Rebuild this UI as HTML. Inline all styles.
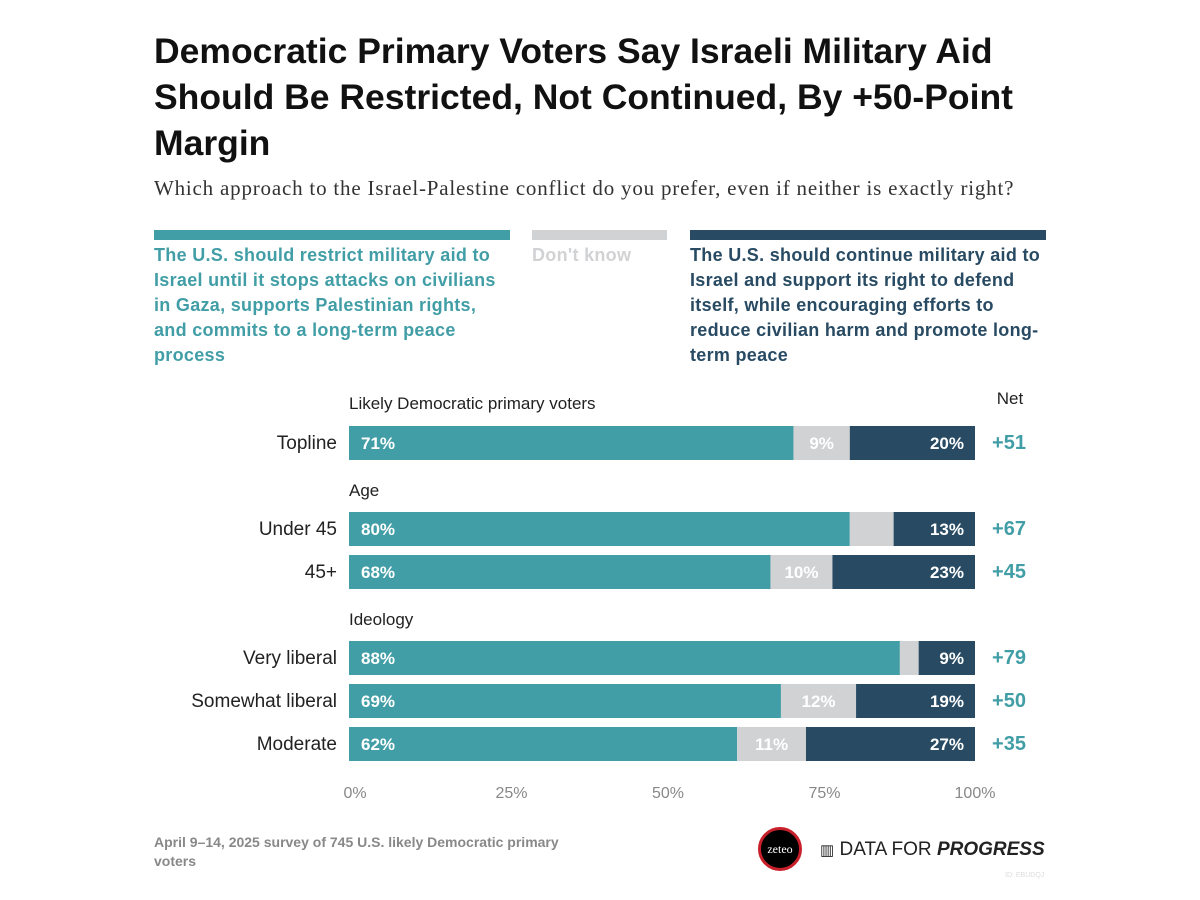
<!DOCTYPE html>
<html><head><meta charset="utf-8"><style>
body{margin:0;background:#fff;width:1200px;height:900px;position:relative;font-family:"Liberation Sans",sans-serif;overflow:hidden}
.abs{position:absolute}
#title{left:154px;top:28px;width:900px;font-size:35.5px;font-weight:bold;line-height:46px;color:#111}
#sub{left:154px;top:176px;font-family:"Liberation Serif",serif;font-size:21px;color:#333;letter-spacing:0.8px}
.lg{font-size:18px;font-weight:bold;line-height:25px;top:243px;letter-spacing:0.3px}
</style></head><body>
<div id="title" class="abs">Democratic Primary Voters Say Israeli Military Aid Should Be Restricted, Not Continued, By +50-Point Margin</div>
<div id="sub" class="abs">Which approach to the Israel-Palestine conflict do you prefer, even if neither is exactly right?</div>
<div class="abs" style="left:154px;top:230px;width:356px;height:10px;background:#429ea6"></div>
<div class="abs" style="left:532px;top:230px;width:135px;height:10px;background:#d1d2d4"></div>
<div class="abs" style="left:690px;top:230px;width:356px;height:10px;background:#284b63"></div>
<div class="abs lg" style="left:154px;width:345px;color:#429ea6">The U.S. should restrict military aid to Israel until it stops attacks on civilians in Gaza, supports Palestinian rights, and commits to a long-term peace process</div>
<div class="abs lg" style="left:532px;width:140px;color:#d1d2d4">Don't know</div>
<div class="abs lg" style="left:690px;width:358px;color:#284b63">The U.S. should continue military aid to Israel and support its right to defend itself, while encouraging efforts to reduce civilian harm and promote long-term peace</div>
<svg class="abs" style="left:0;top:0" width="1200" height="900" id="chart"></svg>
<div class="abs" style="left:154px;top:833px;width:450px;font-size:14px;font-weight:bold;color:#888;line-height:19px">April 9–14, 2025 survey of 745 U.S. likely Democratic primary voters</div>
<div class="abs" style="left:758px;top:827px;width:44px;height:44px;border-radius:50%;background:#000;border:3px solid #c8202a;box-sizing:border-box;color:#fff;font-family:'Liberation Serif',serif;font-size:12px;text-align:center;line-height:38px">zeteo</div>
<div class="abs" style="left:820px;top:839px;font-size:19px;color:#222;white-space:nowrap"><span style="font-size:15px">▥</span> DATA FOR <b><i>PROGRESS</i></b></div>
<div class="abs" style="left:1005px;top:872px;font-size:7px;color:#ddd">ID: EBUDQJ</div>
<script>
const categories=["Topline","Under 45","45+","Very liberal","Somewhat liberal","Moderate"];
const restrict=[71,80,68,88,69,62];
const dontKnow=[9,7,10,3,12,11];
const cont=[20,13,23,9,19,27];
const net=["+51","+67","+45","+79","+50","+35"];
const showDK=[true,false,true,false,true,true];
const ticks=[0,25,50,75,100];
const rowY=[426,512,555,641,684,727];
const groups=[["Likely Democratic primary voters",403],["Age",490],["Ideology",619]];
const svg=document.getElementById('chart');const NS="http://www.w3.org/2000/svg";
const x0=349,x1=975;const xs=v=>x0+(x1-x0)*v/100;
function mk(t,a,txt){const e=document.createElementNS(NS,t);for(const k in a)e.setAttribute(k,a[k]);if(txt!==undefined)e.textContent=txt;svg.appendChild(e);return e;}
const F='"Liberation Sans",sans-serif';
groups.forEach(g=>{const e=mk('text',{x:349,y:g[1]+6,'font-size':17,fill:'#222','font-family':F},g[0]);

});
const nh=mk('text',{x:1010,y:404,'font-size':17,fill:'#222','font-family':F,'text-anchor':'middle'},'Net');


categories.forEach((c,i)=>{const y=rowY[i],h=34;const tot=restrict[i]+dontKnow[i]+cont[i];
const a=restrict[i]/tot*100,b=(restrict[i]+dontKnow[i])/tot*100;
const lab=mk('text',{x:337,y:y+23,'font-size':19,fill:'#222','font-family':F,'text-anchor':'end'},c);


const r1=mk('rect',{x:xs(0),y:y,width:xs(a)-xs(0),height:h,fill:'#429ea6'});


const r2=mk('rect',{x:xs(a),y:y,width:xs(b)-xs(a),height:h,fill:'#d1d2d4'});


const r3=mk('rect',{x:xs(b),y:y,width:xs(100)-xs(b),height:h,fill:'#284b63'});


mk('text',{x:xs(0)+12,y:y+23,'font-size':17,'font-weight':'bold',fill:'#fff','font-family':F},restrict[i]+'%');
if(showDK[i])mk('text',{x:(xs(a)+xs(b))/2,y:y+23,'font-size':17,'font-weight':'bold',fill:'#fff','font-family':F,'text-anchor':'middle'},dontKnow[i]+'%');
mk('text',{x:xs(100)-11,y:y+23,'font-size':17,'font-weight':'bold',fill:'#fff','font-family':F,'text-anchor':'end'},cont[i]+'%');
const n=mk('text',{x:1009,y:y+23,'font-size':20,'font-weight':'bold',fill:'#429ea6','font-family':F,'text-anchor':'middle'},net[i]);

});
ticks.forEach(t=>{const e=mk('text',{x:xs(t)+(t==100?0:6),y:798,'font-size':16,fill:'#888','font-family':F,'text-anchor':'middle'},t+'%');

});
</script>
</body></html>
